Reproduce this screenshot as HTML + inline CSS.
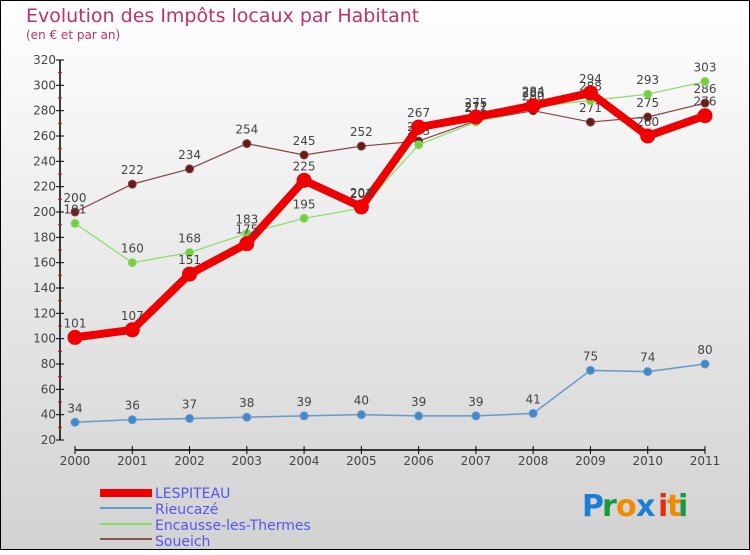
<!DOCTYPE html>
<html><head><meta charset="utf-8"><style>
body{margin:0;width:750px;height:550px;overflow:hidden}
svg text{font-family:"DejaVu Sans","Liberation Sans",sans-serif}
</style></head><body>
<svg id="c" width="750" height="550" xmlns="http://www.w3.org/2000/svg">
<defs><linearGradient id="bg" x1="0" y1="0" x2="0" y2="1"><stop offset="0" stop-color="#ffffff"/><stop offset="1" stop-color="#d2d2d2"/></linearGradient></defs>
<rect x="0.5" y="0.5" width="749" height="549" fill="url(#bg)" stroke="#000"/>
<text x="26" y="22" font-size="19" fill="#c0306a">Evolution des Impôts locaux par Habitant</text>
<text x="26" y="39" font-size="12" fill="#c0306a">(en € et par an)</text>
<g id="axes"></g><g id="series"></g>
<g>
<rect x="100" y="489" width="52" height="8" fill="#ee0000"/>
<text x="155" y="498" font-size="14" fill="#5555ee">LESPITEAU</text>
<rect x="100" y="507" width="52" height="2" fill="#6699cc"/>
<text x="155" y="514" font-size="14" fill="#5555ee">Rieucazé</text>
<rect x="100" y="523" width="52" height="2" fill="#88dd66"/>
<text x="155" y="530" font-size="14" fill="#5555ee">Encausse-les-Thermes</text>
<rect x="100" y="538" width="52" height="2" fill="#885555"/>
<text x="155" y="546" font-size="14" fill="#5555ee">Soueich</text>
</g>
<g font-size="30" font-weight="bold">
<text x="582" y="516" fill="#1a7fd4">P</text><text x="602" y="516" fill="#1a9a40">r</text><text x="616" y="516" fill="#f08a00">o</text><text x="636" y="516" fill="#1a7fd4">x</text><text x="658" y="516" fill="#e03010">i</text><text x="667" y="516" fill="#f08a00">t</text><text x="678" y="516" fill="#1a9a40">i</text>
</g>
</svg>
<script>
const years=["2000","2001","2002","2003","2004","2005","2006","2007","2008","2009","2010","2011"];
const yTicks=[20,40,60,80,100,120,140,160,180,200,220,240,260,280,300,320];
const lespiteau=[101,107,151,175,225,204,267,275,284,294,260,276];
const rieucaze=[34,36,37,38,39,40,39,39,41,75,74,80];
const encausse=[191,160,168,183,195,203,253,271,283,288,293,303];
const soueich=[200,222,234,254,245,252,256,272,280,271,275,286];
const NS="http://www.w3.org/2000/svg";
function X(i){return 75+i*(630/11);}
function Y(v){return 440-(v-20)*380/300;}
function mk(t,a,p){const e=document.createElementNS(NS,t);for(const k in a)e.setAttribute(k,a[k]);p.appendChild(e);return e;}
const ax=document.getElementById('axes');
let e=mk('line',{x1:60,y1:60,x2:60,y2:440,stroke:'#000','stroke-width':1.5},ax);

e=mk('line',{x1:75,y1:450,x2:705,y2:450,stroke:'#000','stroke-width':1.5},ax);

yTicks.forEach((v,i)=>{
 mk('line',{x1:56,y1:Y(v),x2:64,y2:Y(v),stroke:'#000'},ax);
 if(i<yTicks.length-1)mk('line',{x1:58,y1:Y(v+10),x2:62,y2:Y(v+10),stroke:'#e00'},ax);
 const t=mk('text',{x:56,y:Y(v)+4,'font-size':12,fill:'#444','text-anchor':'end'},ax);t.textContent=v;
 
});
years.forEach((y,i)=>{
 mk('line',{x1:X(i),y1:446,x2:X(i),y2:454,stroke:'#000'},ax);
 const t=mk('text',{x:X(i),y:465,'font-size':12,fill:'#444','text-anchor':'middle'},ax);t.textContent=y;
 
});
const sg=document.getElementById('series');
function draw(name,vals,col,w,r,dot){
 const g=mk('g',{},sg);
 
 
 const pl=mk('polyline',{points:vals.map((v,i)=>X(i)+','+Y(v)).join(' '),fill:'none',stroke:col,'stroke-width':w,'stroke-linejoin':'round'},g);
 
 
 vals.forEach((v,i)=>{
  const c=mk('circle',{cx:X(i),cy:Y(v),r:r,fill:dot,stroke:col,'stroke-width':1},g);
  
  
  const t=mk('text',{x:X(i),y:Y(v)-10,'font-size':12,fill:'#444','text-anchor':'middle'},g);t.textContent=v;
  
  
 });
}
draw('soueich',soueich,'#884444',1.2,4,'#661a1a');
draw('encausse',encausse,'#88dd66',1.2,4,'#77cc44');
draw('rieucaze',rieucaze,'#6699cc',1.5,4,'#4488cc');
draw('lespiteau',lespiteau,'#ee0000',8,7,'#ee0000');
</script>
</body></html>
